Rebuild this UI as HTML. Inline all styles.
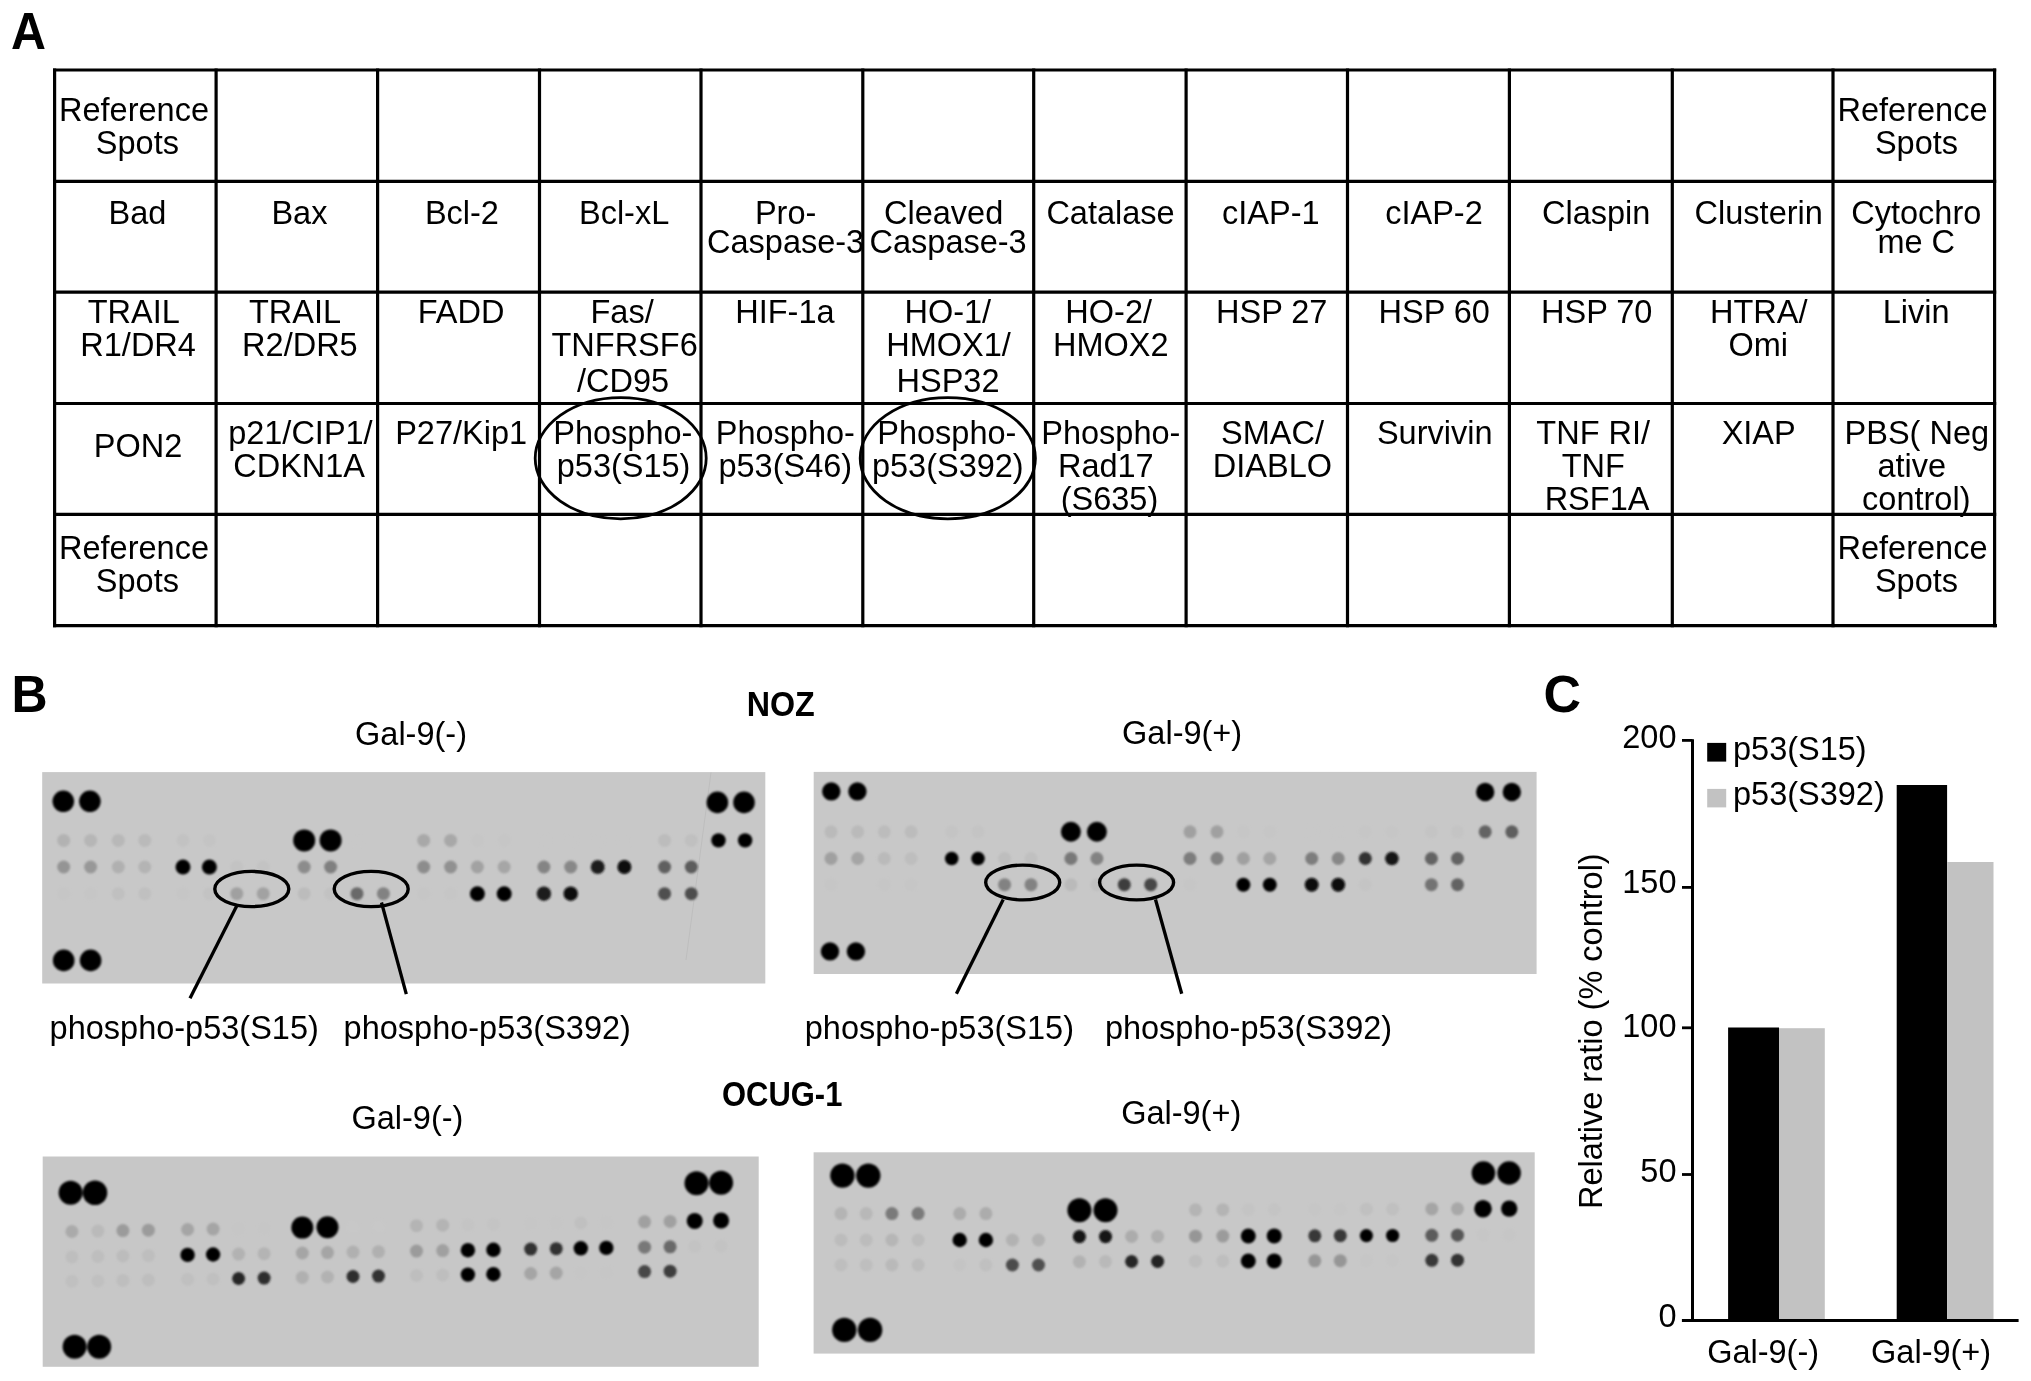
<!DOCTYPE html>
<html><head><meta charset="utf-8"><style>
html,body{margin:0;padding:0;background:#fff;width:2031px;height:1381px;overflow:hidden}
svg{display:block;filter:grayscale(1)}
text{font-family:"Liberation Sans",sans-serif;fill:#000}
</style></head><body>
<svg width="2031" height="1381" viewBox="0 0 2031 1381">
<defs><filter id="soft" x="-5%" y="-5%" width="110%" height="110%"><feGaussianBlur stdDeviation="1.2"/></filter></defs>
<rect width="2031" height="1381" fill="#fff"/>
<text transform="translate(28.5,48.5) scale(0.95,1)" font-size="51" font-weight="bold" text-anchor="middle">A</text>
<line x1="54.6" y1="68.4" x2="54.6" y2="627.2" stroke="#000" stroke-width="3.2"/>
<line x1="216.1" y1="68.4" x2="216.1" y2="627.2" stroke="#000" stroke-width="3.2"/>
<line x1="377.6" y1="68.4" x2="377.6" y2="627.2" stroke="#000" stroke-width="3.2"/>
<line x1="539.5" y1="68.4" x2="539.5" y2="627.2" stroke="#000" stroke-width="3.2"/>
<line x1="701.0" y1="68.4" x2="701.0" y2="627.2" stroke="#000" stroke-width="3.2"/>
<line x1="862.8" y1="68.4" x2="862.8" y2="627.2" stroke="#000" stroke-width="3.2"/>
<line x1="1033.7" y1="68.4" x2="1033.7" y2="627.2" stroke="#000" stroke-width="3.2"/>
<line x1="1186.1" y1="68.4" x2="1186.1" y2="627.2" stroke="#000" stroke-width="3.2"/>
<line x1="1347.5" y1="68.4" x2="1347.5" y2="627.2" stroke="#000" stroke-width="3.2"/>
<line x1="1509.4" y1="68.4" x2="1509.4" y2="627.2" stroke="#000" stroke-width="3.2"/>
<line x1="1672.3" y1="68.4" x2="1672.3" y2="627.2" stroke="#000" stroke-width="3.2"/>
<line x1="1833.0" y1="68.4" x2="1833.0" y2="627.2" stroke="#000" stroke-width="3.2"/>
<line x1="1994.6" y1="68.4" x2="1994.6" y2="627.2" stroke="#000" stroke-width="3.2"/>
<line x1="53.0" y1="70.0" x2="1996.2" y2="70.0" stroke="#000" stroke-width="3.2"/>
<line x1="53.0" y1="181.3" x2="1996.2" y2="181.3" stroke="#000" stroke-width="3.2"/>
<line x1="53.0" y1="292.2" x2="1996.2" y2="292.2" stroke="#000" stroke-width="3.2"/>
<line x1="53.0" y1="403.5" x2="1996.2" y2="403.5" stroke="#000" stroke-width="3.2"/>
<line x1="53.0" y1="514.3" x2="1996.2" y2="514.3" stroke="#000" stroke-width="3.2"/>
<line x1="53.0" y1="625.6" x2="1997.0" y2="625.6" stroke="#000" stroke-width="3.2"/>
<text transform="translate(134.0,120.5) scale(0.956,1)" font-size="34" text-anchor="middle">Reference</text>
<text transform="translate(137.4,153.8) scale(0.956,1)" font-size="34" text-anchor="middle">Spots</text>
<text transform="translate(1912.5,120.5) scale(0.956,1)" font-size="34" text-anchor="middle">Reference</text>
<text transform="translate(1916.5,153.8) scale(0.956,1)" font-size="34" text-anchor="middle">Spots</text>
<text transform="translate(137.4,223.8) scale(0.956,1)" font-size="34" text-anchor="middle">Bad</text>
<text transform="translate(299.4,223.8) scale(0.956,1)" font-size="34" text-anchor="middle">Bax</text>
<text transform="translate(461.9,223.8) scale(0.956,1)" font-size="34" text-anchor="middle">Bcl-2</text>
<text transform="translate(624.1,223.8) scale(0.956,1)" font-size="34" text-anchor="middle">Bcl-xL</text>
<text transform="translate(785.6,223.8) scale(0.956,1)" font-size="34" text-anchor="middle">Pro-</text>
<text transform="translate(785.6,253.0) scale(0.956,1)" font-size="34" text-anchor="middle">Caspase-3</text>
<text transform="translate(943.6,223.8) scale(0.956,1)" font-size="34" text-anchor="middle">Cleaved</text>
<text transform="translate(948.1,253.0) scale(0.956,1)" font-size="34" text-anchor="middle">Caspase-3</text>
<text transform="translate(1110.5,223.8) scale(0.956,1)" font-size="34" text-anchor="middle">Catalase</text>
<text transform="translate(1270.8,223.8) scale(0.956,1)" font-size="34" text-anchor="middle">cIAP-1</text>
<text transform="translate(1434.0,223.8) scale(0.956,1)" font-size="34" text-anchor="middle">cIAP-2</text>
<text transform="translate(1596.2,223.8) scale(0.956,1)" font-size="34" text-anchor="middle">Claspin</text>
<text transform="translate(1758.7,223.8) scale(0.956,1)" font-size="34" text-anchor="middle">Clusterin</text>
<text transform="translate(1916.3,223.8) scale(0.956,1)" font-size="34" text-anchor="middle">Cytochro</text>
<text transform="translate(1916.2,253.0) scale(0.956,1)" font-size="34" text-anchor="middle">me C</text>
<text transform="translate(133.7,322.8) scale(0.956,1)" font-size="34" text-anchor="middle">TRAIL</text>
<text transform="translate(138.1,355.8) scale(0.956,1)" font-size="34" text-anchor="middle">R1/DR4</text>
<text transform="translate(295.0,322.8) scale(0.956,1)" font-size="34" text-anchor="middle">TRAIL</text>
<text transform="translate(299.9,355.8) scale(0.956,1)" font-size="34" text-anchor="middle">R2/DR5</text>
<text transform="translate(461.1,322.8) scale(0.956,1)" font-size="34" text-anchor="middle">FADD</text>
<text transform="translate(622.1,322.8) scale(0.956,1)" font-size="34" text-anchor="middle">Fas/</text>
<text transform="translate(624.6,355.8) scale(0.956,1)" font-size="34" text-anchor="middle">TNFRSF6</text>
<text transform="translate(623.1,392.2) scale(0.956,1)" font-size="34" text-anchor="middle">/CD95</text>
<text transform="translate(784.9,322.8) scale(0.956,1)" font-size="34" text-anchor="middle">HIF-1a</text>
<text transform="translate(947.8,322.8) scale(0.956,1)" font-size="34" text-anchor="middle">HO-1/</text>
<text transform="translate(948.5,355.8) scale(0.956,1)" font-size="34" text-anchor="middle">HMOX1/</text>
<text transform="translate(948.0,392.2) scale(0.956,1)" font-size="34" text-anchor="middle">HSP32</text>
<text transform="translate(1108.7,322.8) scale(0.956,1)" font-size="34" text-anchor="middle">HO-2/</text>
<text transform="translate(1110.8,355.8) scale(0.956,1)" font-size="34" text-anchor="middle">HMOX2</text>
<text transform="translate(1271.7,322.8) scale(0.956,1)" font-size="34" text-anchor="middle">HSP 27</text>
<text transform="translate(1434.2,322.8) scale(0.956,1)" font-size="34" text-anchor="middle">HSP 60</text>
<text transform="translate(1596.7,322.8) scale(0.956,1)" font-size="34" text-anchor="middle">HSP 70</text>
<text transform="translate(1758.7,322.8) scale(0.956,1)" font-size="34" text-anchor="middle">HTRA/</text>
<text transform="translate(1758.3,355.8) scale(0.956,1)" font-size="34" text-anchor="middle">Omi</text>
<text transform="translate(1916.2,322.8) scale(0.956,1)" font-size="34" text-anchor="middle">Livin</text>
<text transform="translate(138.1,456.7) scale(0.956,1)" font-size="34" text-anchor="middle">PON2</text>
<text transform="translate(300.4,443.8) scale(0.956,1)" font-size="34" text-anchor="middle">p21/CIP1/</text>
<text transform="translate(299.1,477.0) scale(0.956,1)" font-size="34" text-anchor="middle">CDKN1A</text>
<text transform="translate(461.1,443.8) scale(0.956,1)" font-size="34" text-anchor="middle">P27/Kip1</text>
<text transform="translate(622.8,443.5) scale(0.956,1)" font-size="34" text-anchor="middle">Phospho-</text>
<text transform="translate(623.6,476.8) scale(0.956,1)" font-size="34" text-anchor="middle">p53(S15)</text>
<text transform="translate(785.3,443.8) scale(0.956,1)" font-size="34" text-anchor="middle">Phospho-</text>
<text transform="translate(785.3,477.0) scale(0.956,1)" font-size="34" text-anchor="middle">p53(S46)</text>
<text transform="translate(946.8,443.8) scale(0.956,1)" font-size="34" text-anchor="middle">Phospho-</text>
<text transform="translate(947.8,477.0) scale(0.956,1)" font-size="34" text-anchor="middle">p53(S392)</text>
<text transform="translate(1110.8,443.8) scale(0.956,1)" font-size="34" text-anchor="middle">Phospho-</text>
<text transform="translate(1105.8,477.0) scale(0.956,1)" font-size="34" text-anchor="middle">Rad17</text>
<text transform="translate(1109.5,509.7) scale(0.956,1)" font-size="34" text-anchor="middle">(S635)</text>
<text transform="translate(1272.5,443.8) scale(0.956,1)" font-size="34" text-anchor="middle">SMAC/</text>
<text transform="translate(1272.4,477.0) scale(0.956,1)" font-size="34" text-anchor="middle">DIABLO</text>
<text transform="translate(1434.7,443.8) scale(0.956,1)" font-size="34" text-anchor="middle">Survivin</text>
<text transform="translate(1593.2,443.8) scale(0.956,1)" font-size="34" text-anchor="middle">TNF RI/</text>
<text transform="translate(1593.3,477.0) scale(0.956,1)" font-size="34" text-anchor="middle">TNF</text>
<text transform="translate(1597.0,509.7) scale(0.956,1)" font-size="34" text-anchor="middle">RSF1A</text>
<text transform="translate(1758.7,443.8) scale(0.956,1)" font-size="34" text-anchor="middle">XIAP</text>
<text transform="translate(1916.8,443.8) scale(0.956,1)" font-size="34" text-anchor="middle">PBS( Neg</text>
<text transform="translate(1911.8,477.0) scale(0.956,1)" font-size="34" text-anchor="middle">ative</text>
<text transform="translate(1916.3,509.7) scale(0.956,1)" font-size="34" text-anchor="middle">control)</text>
<text transform="translate(134.0,558.5) scale(0.956,1)" font-size="34" text-anchor="middle">Reference</text>
<text transform="translate(137.4,591.9) scale(0.956,1)" font-size="34" text-anchor="middle">Spots</text>
<text transform="translate(1912.5,558.5) scale(0.956,1)" font-size="34" text-anchor="middle">Reference</text>
<text transform="translate(1916.5,591.9) scale(0.956,1)" font-size="34" text-anchor="middle">Spots</text>
<ellipse cx="620.7" cy="458.2" rx="85.5" ry="60.6" fill="none" stroke="#000" stroke-width="2.8"/>
<ellipse cx="947.8" cy="458.2" rx="87.6" ry="60.6" fill="none" stroke="#000" stroke-width="2.8"/>
<rect x="42.2" y="772.1" width="723.1" height="211.4" fill="#c8c8c8"/>
<line x1="711" y1="772.5" x2="686" y2="960" stroke="#bcbcbc" stroke-width="0.9"/>
<g filter="url(#soft)">
<circle cx="63.3" cy="801.3" r="10.8" fill="#000"/>
<circle cx="89.9" cy="801.3" r="10.8" fill="#000"/>
<circle cx="717.4" cy="802.4" r="10.8" fill="#000"/>
<circle cx="744" cy="802.4" r="10.8" fill="#000"/>
<circle cx="63.7" cy="960.4" r="10.8" fill="#000"/>
<circle cx="90.6" cy="960.4" r="10.8" fill="#000"/>
<circle cx="63.7" cy="840.4" r="6.5" fill="#b2b2b2"/>
<circle cx="90.6" cy="840.4" r="6.5" fill="#b6b6b6"/>
<circle cx="118.3" cy="840.4" r="6.5" fill="#b8b8b8"/>
<circle cx="144.8" cy="840.4" r="6.5" fill="#bababa"/>
<circle cx="183.0" cy="840.4" r="6.5" fill="#c2c2c2"/>
<circle cx="209.4" cy="840.4" r="6.5" fill="#c4c4c4"/>
<circle cx="304.2" cy="840.4" r="11" fill="#000000"/>
<circle cx="330.6" cy="840.4" r="11" fill="#000000"/>
<circle cx="357.0" cy="840.4" r="6.5" fill="#c8c8c8"/>
<circle cx="423.7" cy="840.4" r="6.5" fill="#a8a8a8"/>
<circle cx="450.6" cy="840.4" r="6.5" fill="#a8a8a8"/>
<circle cx="477.4" cy="840.4" r="6.5" fill="#c6c6c6"/>
<circle cx="504.2" cy="840.4" r="6.5" fill="#c6c6c6"/>
<circle cx="543.9" cy="840.4" r="6.5" fill="#c8c8c8"/>
<circle cx="570.7" cy="840.4" r="6.5" fill="#c8c8c8"/>
<circle cx="597.7" cy="840.4" r="6.5" fill="#c8c8c8"/>
<circle cx="624.4" cy="840.4" r="6.5" fill="#c8c8c8"/>
<circle cx="664.6" cy="840.4" r="6.5" fill="#bcbcbc"/>
<circle cx="691.3" cy="840.4" r="6.5" fill="#c0c0c0"/>
<circle cx="718.5" cy="840.4" r="7.2" fill="#000000"/>
<circle cx="745.1" cy="840.4" r="7.2" fill="#000000"/>
<circle cx="63.7" cy="867.0" r="6.5" fill="#949494"/>
<circle cx="90.6" cy="867.0" r="6.5" fill="#989898"/>
<circle cx="118.3" cy="867.0" r="6.5" fill="#b0b0b0"/>
<circle cx="144.8" cy="867.0" r="6.5" fill="#b4b4b4"/>
<circle cx="183.0" cy="867.0" r="7.5" fill="#000000"/>
<circle cx="209.4" cy="867.0" r="7.5" fill="#000000"/>
<circle cx="236.8" cy="867.0" r="6.5" fill="#c3c3c3"/>
<circle cx="263.2" cy="867.0" r="6.5" fill="#c3c3c3"/>
<circle cx="304.2" cy="867.0" r="6.5" fill="#8c8c8c"/>
<circle cx="330.6" cy="867.0" r="6.5" fill="#808080"/>
<circle cx="423.7" cy="867.0" r="6.5" fill="#8c8c8c"/>
<circle cx="450.6" cy="867.0" r="6.5" fill="#919191"/>
<circle cx="477.4" cy="867.0" r="6.5" fill="#a2a2a2"/>
<circle cx="504.2" cy="867.0" r="6.5" fill="#a6a6a6"/>
<circle cx="543.9" cy="867.0" r="6.5" fill="#848484"/>
<circle cx="570.7" cy="867.0" r="6.5" fill="#888888"/>
<circle cx="597.7" cy="867.0" r="7" fill="#1e1e1e"/>
<circle cx="624.4" cy="867.0" r="7" fill="#080808"/>
<circle cx="664.6" cy="867.0" r="6.5" fill="#606060"/>
<circle cx="691.3" cy="867.0" r="6.5" fill="#5c5c5c"/>
<circle cx="63.7" cy="893.7" r="6.5" fill="#c6c6c6"/>
<circle cx="90.6" cy="893.7" r="6.5" fill="#c6c6c6"/>
<circle cx="118.3" cy="893.7" r="6.5" fill="#c0c0c0"/>
<circle cx="144.8" cy="893.7" r="6.5" fill="#c0c0c0"/>
<circle cx="183.0" cy="893.7" r="6.5" fill="#c6c6c6"/>
<circle cx="209.4" cy="893.7" r="6.5" fill="#c3c3c3"/>
<circle cx="236.8" cy="893.7" r="6.5" fill="#a0a0a0"/>
<circle cx="263.2" cy="893.7" r="6.5" fill="#a2a2a2"/>
<circle cx="304.2" cy="893.7" r="6.5" fill="#bcbcbc"/>
<circle cx="330.6" cy="893.7" r="6.5" fill="#c2c2c2"/>
<circle cx="357.0" cy="893.7" r="6.5" fill="#696969"/>
<circle cx="383.4" cy="893.7" r="6.5" fill="#828282"/>
<circle cx="423.7" cy="893.7" r="6.5" fill="#c6c6c6"/>
<circle cx="450.6" cy="893.7" r="6.5" fill="#c6c6c6"/>
<circle cx="477.4" cy="893.7" r="7.5" fill="#050505"/>
<circle cx="504.2" cy="893.7" r="7.5" fill="#050505"/>
<circle cx="543.9" cy="893.7" r="7.2" fill="#1e1e1e"/>
<circle cx="570.7" cy="893.7" r="7.2" fill="#0f0f0f"/>
<circle cx="664.6" cy="893.7" r="6.5" fill="#505050"/>
<circle cx="691.3" cy="893.7" r="6.5" fill="#4e4e4e"/>
</g>
<rect x="813.7" y="771.9" width="722.9" height="202.1" fill="#c8c8c8"/>
<g filter="url(#soft)">
<circle cx="831.3" cy="791.4" r="9.2" fill="#000"/>
<circle cx="857.4" cy="791.4" r="9.2" fill="#000"/>
<circle cx="1485.2" cy="792" r="9.2" fill="#000"/>
<circle cx="1511.8" cy="792" r="9.2" fill="#000"/>
<circle cx="830" cy="951.4" r="9.2" fill="#000"/>
<circle cx="855.9" cy="951.4" r="9.2" fill="#000"/>
<circle cx="831.0" cy="831.8" r="6.5" fill="#bababa"/>
<circle cx="857.7" cy="831.8" r="6.5" fill="#bababa"/>
<circle cx="884.3" cy="831.8" r="6.5" fill="#bcbcbc"/>
<circle cx="911.1" cy="831.8" r="6.5" fill="#bcbcbc"/>
<circle cx="951.7" cy="831.8" r="6.5" fill="#c4c4c4"/>
<circle cx="978.0" cy="831.8" r="6.5" fill="#c4c4c4"/>
<circle cx="1070.9" cy="831.8" r="10" fill="#000000"/>
<circle cx="1096.9" cy="831.8" r="10" fill="#000000"/>
<circle cx="1190.0" cy="831.8" r="6.5" fill="#a0a0a0"/>
<circle cx="1217.0" cy="831.8" r="6.5" fill="#a0a0a0"/>
<circle cx="1243.4" cy="831.8" r="6.5" fill="#c6c6c6"/>
<circle cx="1269.8" cy="831.8" r="6.5" fill="#c6c6c6"/>
<circle cx="1311.7" cy="831.8" r="6.5" fill="#c8c8c8"/>
<circle cx="1338.2" cy="831.8" r="6.5" fill="#c8c8c8"/>
<circle cx="1365.3" cy="831.8" r="6.5" fill="#c6c6c6"/>
<circle cx="1391.9" cy="831.8" r="6.5" fill="#c6c6c6"/>
<circle cx="1431.4" cy="831.8" r="6.5" fill="#c4c4c4"/>
<circle cx="1457.5" cy="831.8" r="6.5" fill="#c4c4c4"/>
<circle cx="1485.2" cy="831.8" r="6.5" fill="#646464"/>
<circle cx="1511.8" cy="831.8" r="6.5" fill="#5f5f5f"/>
<circle cx="831.0" cy="858.5" r="6.5" fill="#a0a0a0"/>
<circle cx="857.7" cy="858.5" r="6.5" fill="#a5a5a5"/>
<circle cx="884.3" cy="858.5" r="6.5" fill="#bababa"/>
<circle cx="911.1" cy="858.5" r="6.5" fill="#bebebe"/>
<circle cx="951.7" cy="858.5" r="6.8" fill="#000000"/>
<circle cx="978.0" cy="858.5" r="6.8" fill="#000000"/>
<circle cx="1004.6" cy="858.5" r="6.5" fill="#bebebe"/>
<circle cx="1031.0" cy="858.5" r="6.5" fill="#c0c0c0"/>
<circle cx="1070.9" cy="858.5" r="6.5" fill="#787878"/>
<circle cx="1096.9" cy="858.5" r="6.5" fill="#828282"/>
<circle cx="1190.0" cy="858.5" r="6.5" fill="#7d7d7d"/>
<circle cx="1217.0" cy="858.5" r="6.5" fill="#828282"/>
<circle cx="1243.4" cy="858.5" r="6.5" fill="#a0a0a0"/>
<circle cx="1269.8" cy="858.5" r="6.5" fill="#a5a5a5"/>
<circle cx="1311.7" cy="858.5" r="6.5" fill="#7d7d7d"/>
<circle cx="1338.2" cy="858.5" r="6.5" fill="#878787"/>
<circle cx="1365.3" cy="858.5" r="6.5" fill="#323232"/>
<circle cx="1391.9" cy="858.5" r="6.8" fill="#141414"/>
<circle cx="1431.4" cy="858.5" r="6.5" fill="#646464"/>
<circle cx="1457.5" cy="858.5" r="6.5" fill="#646464"/>
<circle cx="831.0" cy="884.7" r="6.5" fill="#c6c6c6"/>
<circle cx="884.3" cy="884.7" r="6.5" fill="#c6c6c6"/>
<circle cx="911.1" cy="884.7" r="6.5" fill="#c6c6c6"/>
<circle cx="1004.6" cy="884.7" r="6.5" fill="#828282"/>
<circle cx="1031.0" cy="884.7" r="6.5" fill="#828282"/>
<circle cx="1070.9" cy="884.7" r="6.5" fill="#bababa"/>
<circle cx="1096.9" cy="884.7" r="6.5" fill="#c0c0c0"/>
<circle cx="1124.3" cy="884.7" r="6.5" fill="#3c3c3c"/>
<circle cx="1150.7" cy="884.7" r="6.5" fill="#464646"/>
<circle cx="1190.0" cy="884.7" r="6.5" fill="#c6c6c6"/>
<circle cx="1243.4" cy="884.7" r="7" fill="#050505"/>
<circle cx="1269.8" cy="884.7" r="7" fill="#050505"/>
<circle cx="1311.7" cy="884.7" r="7" fill="#0a0a0a"/>
<circle cx="1338.2" cy="884.7" r="7" fill="#0a0a0a"/>
<circle cx="1365.3" cy="884.7" r="6.5" fill="#c4c4c4"/>
<circle cx="1431.4" cy="884.7" r="6.5" fill="#737373"/>
<circle cx="1457.5" cy="884.7" r="6.5" fill="#646464"/>
</g>
<rect x="42.7" y="1156.5" width="716.0" height="210.3" fill="#c7c7c7"/>
<g filter="url(#soft)">
<circle cx="70.6" cy="1192.8" r="12" fill="#000"/>
<circle cx="95.0" cy="1192.8" r="12.3" fill="#000"/>
<circle cx="696.5" cy="1183.3" r="12" fill="#000"/>
<circle cx="721.1" cy="1182.8" r="12" fill="#000"/>
<circle cx="74.6" cy="1346.8" r="12" fill="#000"/>
<circle cx="99.2" cy="1346.8" r="12" fill="#000"/>
<circle cx="71.9" cy="1231.5" r="6.5" fill="#aaaaaa"/>
<circle cx="97.9" cy="1231.1" r="6.5" fill="#bababa"/>
<circle cx="122.9" cy="1230.6" r="6.5" fill="#9b9b9b"/>
<circle cx="148.4" cy="1230.2" r="6.5" fill="#9b9b9b"/>
<circle cx="187.6" cy="1229.5" r="6.5" fill="#a5a5a5"/>
<circle cx="213.1" cy="1229.1" r="6.5" fill="#a5a5a5"/>
<circle cx="238.6" cy="1228.7" r="6.5" fill="#c6c6c6"/>
<circle cx="264.1" cy="1228.3" r="6.5" fill="#c6c6c6"/>
<circle cx="302.3" cy="1227.6" r="11" fill="#000000"/>
<circle cx="327.5" cy="1227.2" r="11" fill="#000000"/>
<circle cx="353.0" cy="1226.7" r="6.5" fill="#c8c8c8"/>
<circle cx="378.5" cy="1226.3" r="6.5" fill="#c8c8c8"/>
<circle cx="416.5" cy="1225.7" r="6.5" fill="#b4b4b4"/>
<circle cx="442.7" cy="1225.2" r="6.5" fill="#b4b4b4"/>
<circle cx="467.9" cy="1224.8" r="6.5" fill="#c4c4c4"/>
<circle cx="493.4" cy="1224.4" r="6.5" fill="#c4c4c4"/>
<circle cx="530.7" cy="1223.7" r="6.5" fill="#c6c6c6"/>
<circle cx="556.2" cy="1223.3" r="6.5" fill="#c6c6c6"/>
<circle cx="580.8" cy="1222.9" r="6.5" fill="#c0c0c0"/>
<circle cx="606.3" cy="1222.5" r="6.5" fill="#c6c6c6"/>
<circle cx="644.6" cy="1221.8" r="6.5" fill="#a0a0a0"/>
<circle cx="670.1" cy="1221.4" r="6.5" fill="#a0a0a0"/>
<circle cx="694.7" cy="1221.0" r="8" fill="#000000"/>
<circle cx="721.1" cy="1220.5" r="8" fill="#000000"/>
<circle cx="71.9" cy="1256.9" r="6.5" fill="#bebebe"/>
<circle cx="97.9" cy="1256.5" r="6.5" fill="#bebebe"/>
<circle cx="122.9" cy="1256.0" r="6.5" fill="#bcbcbc"/>
<circle cx="148.4" cy="1255.6" r="6.5" fill="#bebebe"/>
<circle cx="187.6" cy="1254.9" r="7.2" fill="#000000"/>
<circle cx="213.1" cy="1254.5" r="7.2" fill="#000000"/>
<circle cx="238.6" cy="1254.1" r="6.5" fill="#b2b2b2"/>
<circle cx="264.1" cy="1253.7" r="6.5" fill="#b4b4b4"/>
<circle cx="302.3" cy="1253.0" r="6.5" fill="#a5a5a5"/>
<circle cx="327.5" cy="1252.6" r="6.5" fill="#a5a5a5"/>
<circle cx="353.0" cy="1252.1" r="6.5" fill="#b0b0b0"/>
<circle cx="378.5" cy="1251.7" r="6.5" fill="#b0b0b0"/>
<circle cx="416.5" cy="1251.1" r="6.5" fill="#9b9b9b"/>
<circle cx="442.7" cy="1250.6" r="6.5" fill="#a0a0a0"/>
<circle cx="467.9" cy="1250.2" r="7.2" fill="#000000"/>
<circle cx="493.4" cy="1249.8" r="7.2" fill="#000000"/>
<circle cx="530.7" cy="1249.1" r="6.5" fill="#323232"/>
<circle cx="556.2" cy="1248.7" r="6.5" fill="#323232"/>
<circle cx="580.8" cy="1248.3" r="7.2" fill="#000000"/>
<circle cx="606.3" cy="1247.9" r="7.2" fill="#000000"/>
<circle cx="644.6" cy="1247.2" r="6.5" fill="#787878"/>
<circle cx="670.1" cy="1246.8" r="6.5" fill="#696969"/>
<circle cx="694.7" cy="1246.4" r="6.5" fill="#c3c3c3"/>
<circle cx="721.1" cy="1245.9" r="6.5" fill="#c3c3c3"/>
<circle cx="71.9" cy="1281.3" r="6.5" fill="#c0c0c0"/>
<circle cx="97.9" cy="1280.9" r="6.5" fill="#c0c0c0"/>
<circle cx="122.9" cy="1280.4" r="6.5" fill="#bebebe"/>
<circle cx="148.4" cy="1280.0" r="6.5" fill="#bebebe"/>
<circle cx="187.6" cy="1279.3" r="6.5" fill="#c0c0c0"/>
<circle cx="213.1" cy="1278.9" r="6.5" fill="#c0c0c0"/>
<circle cx="238.6" cy="1278.5" r="6.5" fill="#282828"/>
<circle cx="264.1" cy="1278.1" r="6.5" fill="#2d2d2d"/>
<circle cx="302.3" cy="1277.4" r="6.5" fill="#b0b0b0"/>
<circle cx="327.5" cy="1277.0" r="6.5" fill="#b2b2b2"/>
<circle cx="353.0" cy="1276.5" r="6.5" fill="#2d2d2d"/>
<circle cx="378.5" cy="1276.1" r="6.5" fill="#323232"/>
<circle cx="416.5" cy="1275.5" r="6.5" fill="#bebebe"/>
<circle cx="442.7" cy="1275.0" r="6.5" fill="#bebebe"/>
<circle cx="467.9" cy="1274.6" r="7.2" fill="#000000"/>
<circle cx="493.4" cy="1274.2" r="7.2" fill="#000000"/>
<circle cx="530.7" cy="1273.5" r="6.5" fill="#a5a5a5"/>
<circle cx="556.2" cy="1273.1" r="6.5" fill="#a5a5a5"/>
<circle cx="580.8" cy="1272.7" r="6.5" fill="#c6c6c6"/>
<circle cx="606.3" cy="1272.3" r="6.5" fill="#c6c6c6"/>
<circle cx="644.6" cy="1271.6" r="6.5" fill="#464646"/>
<circle cx="670.1" cy="1271.2" r="6.5" fill="#3c3c3c"/>
</g>
<rect x="813.6" y="1152.3" width="721.1" height="201.3" fill="#c8c8c8"/>
<g filter="url(#soft)">
<circle cx="842.4" cy="1175.6" r="12.2" fill="#000"/>
<circle cx="868.3" cy="1175.6" r="12.2" fill="#000"/>
<circle cx="1483.4" cy="1173" r="11.8" fill="#000"/>
<circle cx="1509.1" cy="1173" r="11.8" fill="#000"/>
<circle cx="844.3" cy="1329.9" r="12.2" fill="#000"/>
<circle cx="870.1" cy="1329.9" r="12.2" fill="#000"/>
<circle cx="841.0" cy="1213.6" r="6.5" fill="#b4b4b4"/>
<circle cx="866.2" cy="1213.6" r="6.5" fill="#b8b8b8"/>
<circle cx="891.9" cy="1213.6" r="6.5" fill="#7a7a7a"/>
<circle cx="918.1" cy="1213.6" r="6.5" fill="#7a7a7a"/>
<circle cx="959.7" cy="1213.6" r="6.5" fill="#acacac"/>
<circle cx="985.9" cy="1213.6" r="6.5" fill="#acacac"/>
<circle cx="1079.4" cy="1210.3" r="12" fill="#000000"/>
<circle cx="1105.5" cy="1210.2" r="12" fill="#000000"/>
<circle cx="1195.5" cy="1209.8" r="6.5" fill="#b4b4b4"/>
<circle cx="1222.8" cy="1209.7" r="6.5" fill="#b4b4b4"/>
<circle cx="1248.3" cy="1209.6" r="6.5" fill="#c4c4c4"/>
<circle cx="1274.2" cy="1209.5" r="6.5" fill="#c4c4c4"/>
<circle cx="1314.8" cy="1209.4" r="6.5" fill="#c6c6c6"/>
<circle cx="1340.3" cy="1209.3" r="6.5" fill="#c6c6c6"/>
<circle cx="1366.4" cy="1209.2" r="6.5" fill="#c0c0c0"/>
<circle cx="1392.6" cy="1209.1" r="6.5" fill="#c0c0c0"/>
<circle cx="1431.8" cy="1208.9" r="6.5" fill="#a5a5a5"/>
<circle cx="1457.5" cy="1208.8" r="6.5" fill="#a8a8a8"/>
<circle cx="1483.0" cy="1208.7" r="8.8" fill="#000000"/>
<circle cx="1509.2" cy="1208.6" r="8.2" fill="#000000"/>
<circle cx="841.0" cy="1240.0" r="6.5" fill="#bcbcbc"/>
<circle cx="866.2" cy="1240.0" r="6.5" fill="#bcbcbc"/>
<circle cx="891.9" cy="1240.0" r="6.5" fill="#b6b6b6"/>
<circle cx="918.1" cy="1240.0" r="6.5" fill="#bcbcbc"/>
<circle cx="959.7" cy="1240.0" r="7.2" fill="#000000"/>
<circle cx="985.9" cy="1240.0" r="7.2" fill="#000000"/>
<circle cx="1012.4" cy="1240.0" r="6.5" fill="#b2b2b2"/>
<circle cx="1038.5" cy="1240.0" r="6.5" fill="#b2b2b2"/>
<circle cx="1079.4" cy="1236.7" r="6.6" fill="#141414"/>
<circle cx="1105.5" cy="1236.6" r="6.6" fill="#191919"/>
<circle cx="1131.6" cy="1236.5" r="6.5" fill="#acacac"/>
<circle cx="1157.6" cy="1236.4" r="6.5" fill="#afafaf"/>
<circle cx="1195.5" cy="1236.2" r="6.5" fill="#969696"/>
<circle cx="1222.8" cy="1236.1" r="6.5" fill="#9b9b9b"/>
<circle cx="1248.3" cy="1236.0" r="7.5" fill="#000000"/>
<circle cx="1274.2" cy="1235.9" r="7.5" fill="#000000"/>
<circle cx="1314.8" cy="1235.8" r="6.5" fill="#373737"/>
<circle cx="1340.3" cy="1235.7" r="6.5" fill="#373737"/>
<circle cx="1366.4" cy="1235.6" r="6.6" fill="#050505"/>
<circle cx="1392.6" cy="1235.5" r="6.6" fill="#050505"/>
<circle cx="1431.8" cy="1235.3" r="6.5" fill="#5c5c5c"/>
<circle cx="1457.5" cy="1235.2" r="6.5" fill="#565656"/>
<circle cx="1483.0" cy="1235.1" r="6.5" fill="#c6c6c6"/>
<circle cx="1509.2" cy="1235.0" r="6.5" fill="#c6c6c6"/>
<circle cx="841.0" cy="1265.0" r="6.5" fill="#bebebe"/>
<circle cx="866.2" cy="1265.0" r="6.5" fill="#bebebe"/>
<circle cx="891.9" cy="1265.0" r="6.5" fill="#b9b9b9"/>
<circle cx="918.1" cy="1265.0" r="6.5" fill="#bcbcbc"/>
<circle cx="959.7" cy="1265.0" r="6.5" fill="#c4c4c4"/>
<circle cx="985.9" cy="1265.0" r="6.5" fill="#c0c0c0"/>
<circle cx="1012.4" cy="1265.0" r="6.5" fill="#4b4b4b"/>
<circle cx="1038.5" cy="1265.0" r="6.5" fill="#505050"/>
<circle cx="1079.4" cy="1261.7" r="6.5" fill="#b2b2b2"/>
<circle cx="1105.5" cy="1261.6" r="6.5" fill="#b9b9b9"/>
<circle cx="1131.6" cy="1261.5" r="6.5" fill="#282828"/>
<circle cx="1157.6" cy="1261.4" r="6.5" fill="#232323"/>
<circle cx="1195.5" cy="1261.2" r="6.5" fill="#bebebe"/>
<circle cx="1222.8" cy="1261.1" r="6.5" fill="#bebebe"/>
<circle cx="1248.3" cy="1261.0" r="7.5" fill="#000000"/>
<circle cx="1274.2" cy="1260.9" r="7.5" fill="#000000"/>
<circle cx="1314.8" cy="1260.8" r="6.5" fill="#969696"/>
<circle cx="1340.3" cy="1260.7" r="6.5" fill="#969696"/>
<circle cx="1366.4" cy="1260.6" r="6.5" fill="#c6c6c6"/>
<circle cx="1392.6" cy="1260.5" r="6.5" fill="#c6c6c6"/>
<circle cx="1431.8" cy="1260.3" r="6.5" fill="#373737"/>
<circle cx="1457.5" cy="1260.2" r="6.5" fill="#323232"/>
</g>
<text transform="translate(29.5,711.5) scale(0.98,1)" font-size="51" font-weight="bold" text-anchor="middle">B</text>
<text transform="translate(780.7,715.5) scale(0.909,1)" font-size="35.5" font-weight="bold" text-anchor="middle">NOZ</text>
<text transform="translate(411.0,744.5) scale(0.956,1)" font-size="34" text-anchor="middle">Gal-9(-)</text>
<text transform="translate(1182.1,744.4) scale(0.956,1)" font-size="34" text-anchor="middle">Gal-9(+)</text>
<text transform="translate(782.2,1105.9) scale(0.872,1)" font-size="35.5" font-weight="bold" text-anchor="middle">OCUG-1</text>
<text transform="translate(407.4,1128.6) scale(0.956,1)" font-size="34" text-anchor="middle">Gal-9(-)</text>
<text transform="translate(1181.2,1124.0) scale(0.956,1)" font-size="34" text-anchor="middle">Gal-9(+)</text>
<text transform="translate(49.6,1038.9) scale(0.956,1)" font-size="34" text-anchor="start">phospho-p53(S15)</text>
<text transform="translate(343.6,1038.9) scale(0.956,1)" font-size="34" text-anchor="start">phospho-p53(S392)</text>
<text transform="translate(804.8,1038.6) scale(0.956,1)" font-size="34" text-anchor="start">phospho-p53(S15)</text>
<text transform="translate(1104.9,1038.6) scale(0.956,1)" font-size="34" text-anchor="start">phospho-p53(S392)</text>
<ellipse cx="251.8" cy="889" rx="37" ry="17.6" fill="none" stroke="#000" stroke-width="3.4"/>
<ellipse cx="371.2" cy="889" rx="37" ry="17.6" fill="none" stroke="#000" stroke-width="3.4"/>
<ellipse cx="1022.7" cy="882.5" rx="37" ry="17.4" fill="none" stroke="#000" stroke-width="3.4"/>
<ellipse cx="1136.6" cy="882.5" rx="37" ry="17.4" fill="none" stroke="#000" stroke-width="3.4"/>
<line x1="236.7" y1="906.0" x2="190.0" y2="998.3" stroke="#000" stroke-width="3.3"/>
<line x1="381.5" y1="902.5" x2="406.3" y2="994.1" stroke="#000" stroke-width="3.3"/>
<line x1="1003.2" y1="899.5" x2="956.4" y2="993.7" stroke="#000" stroke-width="3.3"/>
<line x1="1155.5" y1="899.5" x2="1181.7" y2="993.7" stroke="#000" stroke-width="3.3"/>
<text transform="translate(1562.2,712.1) scale(1.02,1)" font-size="51" font-weight="bold" text-anchor="middle">C</text>
<rect x="1728.1" y="1027.5" width="50.9" height="293" fill="#000"/>
<rect x="1779" y="1028.2" width="45.8" height="292.3" fill="#c2c2c2"/>
<rect x="1896.7" y="785" width="50.4" height="535.5" fill="#000"/>
<rect x="1947.1" y="862" width="46.4" height="458.5" fill="#c2c2c2"/>
<line x1="1692.5" y1="739.2" x2="1692.5" y2="1322.0" stroke="#000" stroke-width="3"/>
<line x1="1681.9" y1="1320.5" x2="2018.6" y2="1320.5" stroke="#000" stroke-width="3"/>
<line x1="1682.0" y1="740.4" x2="1692.5" y2="740.4" stroke="#000" stroke-width="2.8"/>
<line x1="1682.0" y1="887.4" x2="1692.5" y2="887.4" stroke="#000" stroke-width="2.8"/>
<line x1="1682.0" y1="1027.8" x2="1692.5" y2="1027.8" stroke="#000" stroke-width="2.8"/>
<line x1="1682.0" y1="1174.5" x2="1692.5" y2="1174.5" stroke="#000" stroke-width="2.8"/>
<text transform="translate(1676.5,747.8) scale(0.956,1)" font-size="34" text-anchor="end">200</text>
<text transform="translate(1676.5,892.7) scale(0.956,1)" font-size="34" text-anchor="end">150</text>
<text transform="translate(1676.5,1037.4) scale(0.956,1)" font-size="34" text-anchor="end">100</text>
<text transform="translate(1676.5,1182.0) scale(0.956,1)" font-size="34" text-anchor="end">50</text>
<text transform="translate(1676.5,1326.9) scale(0.956,1)" font-size="34" text-anchor="end">0</text>
<rect x="1707.2" y="742.9" width="19" height="18.7" fill="#000"/>
<rect x="1707.2" y="788.9" width="19" height="18.5" fill="#c2c2c2"/>
<text transform="translate(1733.0,760.3) scale(0.956,1)" font-size="34" text-anchor="start">p53(S15)</text>
<text transform="translate(1733.0,805.0) scale(0.956,1)" font-size="34" text-anchor="start">p53(S392)</text>
<text transform="translate(1763.1,1362.5) scale(0.956,1)" font-size="34" text-anchor="middle">Gal-9(-)</text>
<text transform="translate(1931.1,1362.5) scale(0.956,1)" font-size="34" text-anchor="middle">Gal-9(+)</text>
<text transform="translate(1601.5,1031.2) rotate(-90) scale(0.956,1)" font-size="34" text-anchor="middle">Relative ratio (% control)</text>
</svg>
</body></html>
